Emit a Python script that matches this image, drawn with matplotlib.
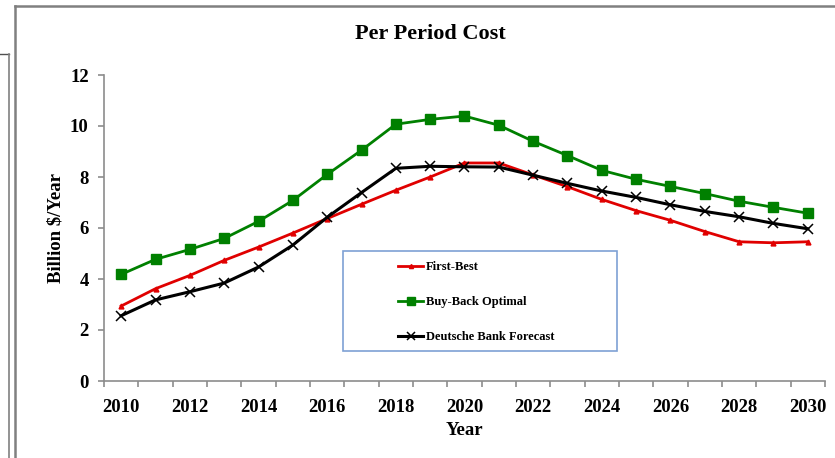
import matplotlib
matplotlib.use('Agg')
import matplotlib.pyplot as plt
from matplotlib.lines import Line2D
from matplotlib.patches import Rectangle

plt.rcParams['font.family'] = ['Liberation Serif', 'DejaVu Serif']
plt.rcParams['font.weight'] = 'bold'

# data (billion $ per year)
years = list(range(2010, 2031))
first_best = [2.94, 3.62, 4.14, 4.73, 5.25, 5.80, 6.37, 6.93, 7.48, 8.00, 8.55,
              8.55, 8.08, 7.62, 7.12, 6.68, 6.30, 5.86, 5.46, 5.42, 5.46]
buy_back = [4.18, 4.77, 5.16, 5.59, 6.26, 7.08, 8.10, 9.05, 10.07, 10.26, 10.39,
            10.03, 9.40, 8.84, 8.26, 7.91, 7.63, 7.35, 7.05, 6.81, 6.58]
deutsche = [2.56, 3.18, 3.50, 3.84, 4.47, 5.33, 6.42, 7.39, 8.34, 8.42, 8.40,
            8.39, 8.07, 7.75, 7.45, 7.20, 6.91, 6.65, 6.44, 6.18, 5.97]

W, H = 835, 458
fig = plt.figure(figsize=(8.35, 4.58), dpi=100)
ax = fig.add_axes([104 / W, 1 - 381 / H, 721 / W, 306 / H])
ax.patch.set_visible(False)

x = list(range(len(years)))
l1, = ax.plot(x, first_best, color='#E00000', lw=2.0, marker='^', ms=3.5,
              label='First-Best', zorder=3)
l2, = ax.plot(x, buy_back, color='#008000', lw=2.0, marker='s', ms=6.5,
              label='Buy-Back Optimal', zorder=3)
l3, = ax.plot(x, deutsche, color='black', lw=2.2, marker='x', ms=7, mew=1.1,
              label='Deutsche Bank Forecast', zorder=3)

ax.set_xlim(-0.5, len(years) - 0.5)
ax.set_ylim(0, 12)
ax.set_yticks(range(0, 13, 2))
ax.set_xticks(x[::2])
ax.set_xticklabels([str(y) for y in years[::2]])
ax.set_xticks([i - 0.5 for i in range(len(years) + 1)], minor=True)
ax.tick_params(axis='x', which='major', length=0, pad=13, labelsize=13.5)
ax.tick_params(axis='x', which='minor', length=4, color='#8c8c8c', width=1.2)
ax.tick_params(axis='y', length=4, color='#8c8c8c', width=1.2, pad=7, labelsize=13.5)

for s in ['top', 'right']:
    ax.spines[s].set_visible(False)
for s in ['left', 'bottom']:
    ax.spines[s].set_color('#8c8c8c')
    ax.spines[s].set_linewidth(1.2)

ax.set_ylabel('Billion $/Year', fontsize=13.5, fontweight='bold')
ax.yaxis.set_label_coords((64 - 104) / 721, 0.5)
ax.set_xlabel('Year', fontsize=13.5, fontweight='bold', labelpad=4)

fig.text(430 / W, 1 - 34 / H, 'Per Period Cost', ha='center', va='center',
         fontsize=16, fontweight='bold')

# legend box
ax.add_patch(Rectangle((343 / W, 1 - 351 / H), 274 / W, 100 / H,
                       transform=fig.transFigure, facecolor='white',
                       edgecolor='#7EA1D4', lw=1.2, clip_on=False, zorder=1))
ax.legend(handles=[l1, l2, l3], loc='upper left',
          bbox_to_anchor=(398 / W, 1 - 261 / H), bbox_transform=fig.transFigure,
          frameon=False, handlelength=2.0, handletextpad=0.2,
          labelspacing=1.85, borderpad=0, borderaxespad=0, numpoints=1,
          markerscale=0.85, prop={'weight': 'bold', 'size': 9})

# outer frames
fig.add_artist(Line2D([15 / W, 15 / W], [0, 1 - 6 / H], transform=fig.transFigure,
                      color='#808080', lw=1.8))
fig.add_artist(Line2D([15 / W, 1], [1 - 6 / H, 1 - 6 / H], transform=fig.transFigure,
                      color='#808080', lw=1.8))
fig.add_artist(Line2D([0, 9 / W], [1 - 54 / H, 1 - 54 / H], transform=fig.transFigure,
                      color='#505050', lw=1.0))
fig.add_artist(Line2D([9 / W, 9 / W], [0, 1 - 54 / H], transform=fig.transFigure,
                      color='#808080', lw=1.2))

fig.savefig('out.png', dpi=100)
